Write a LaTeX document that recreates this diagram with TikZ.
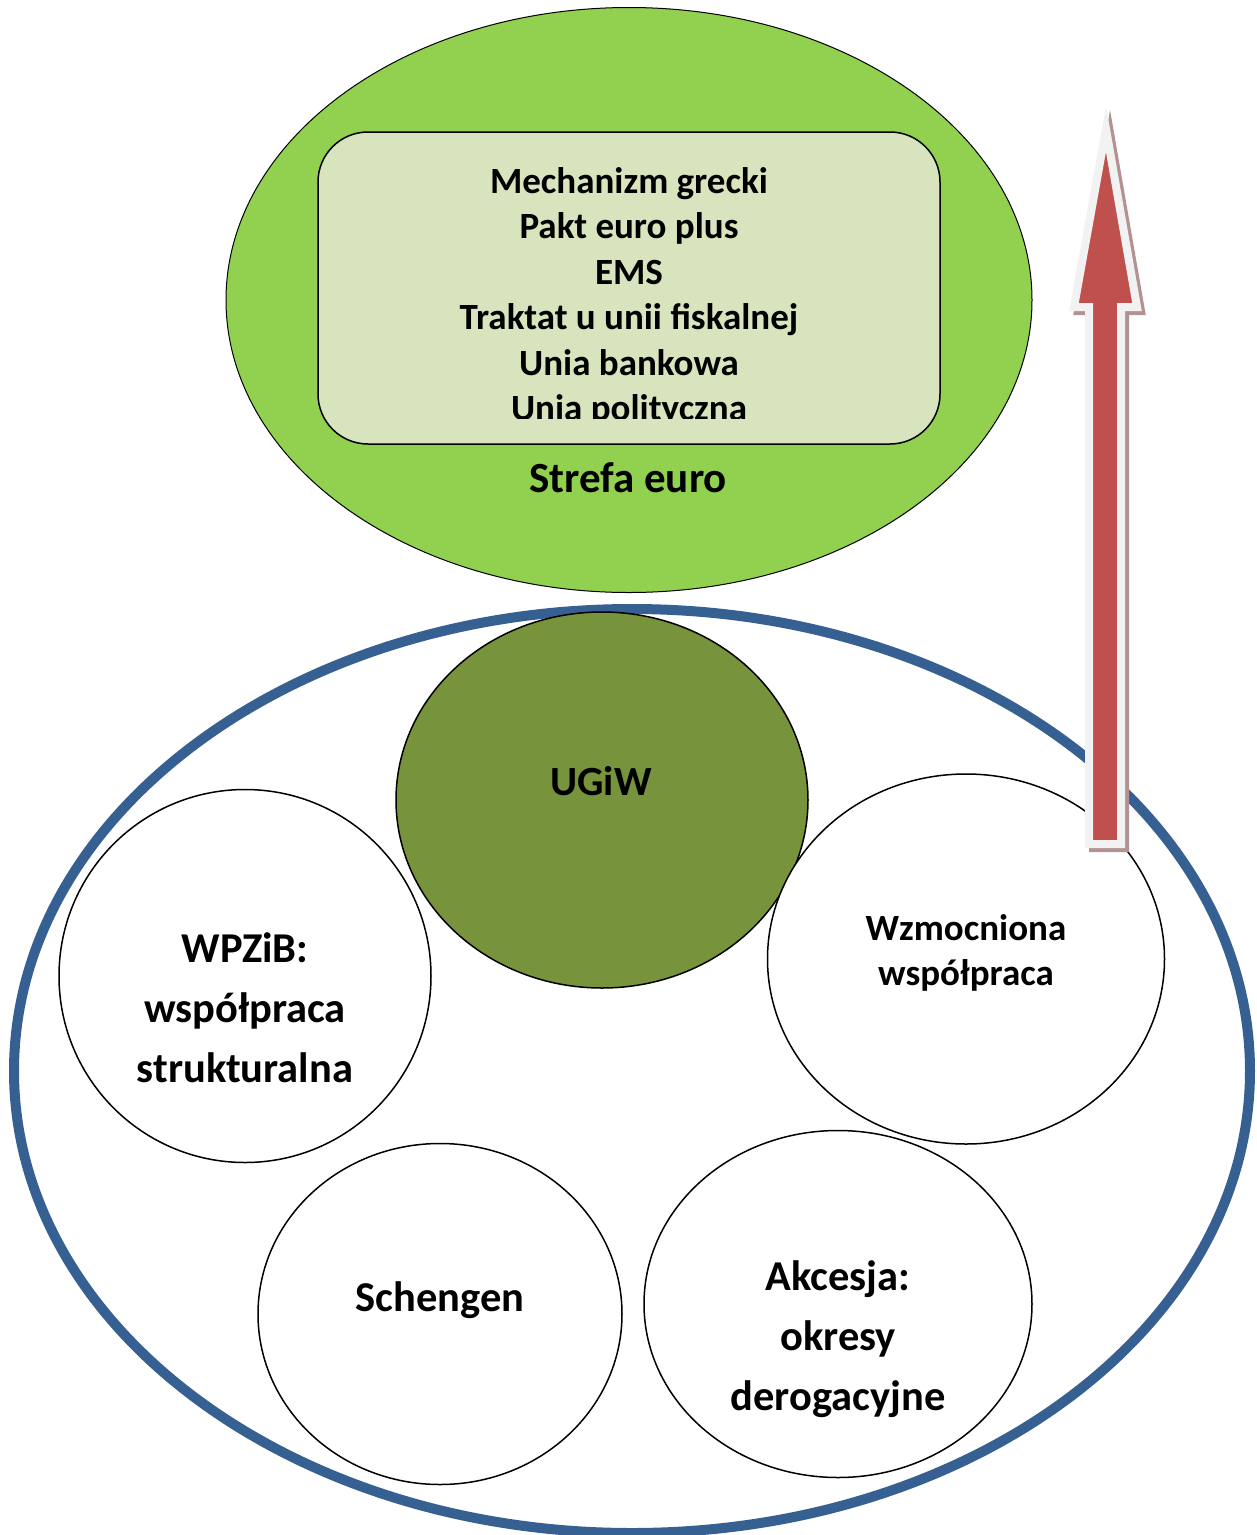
\documentclass[tikz,border=0pt]{standalone}
\usepackage{fontspec}
\setmainfont{Carlito}
\definecolor{eurogreen}{HTML}{92D050}
\definecolor{boxgreen}{HTML}{D7E4BD}
\definecolor{ugiwgreen}{HTML}{77933C}
\definecolor{eublue}{HTML}{376092}
\definecolor{arrowred}{HTML}{C0504D}
\definecolor{arrowrim}{HTML}{F2F2F2}
\definecolor{arrowshadow}{HTML}{B59292}
\tikzset{
  bubble/.style={ellipse, draw=black, line width=1.5pt, fill=white, inner sep=0pt},
  bigtxt/.style={font=\bfseries\fontsize{42.5}{60}\selectfont, align=center},
  midtxt/.style={font=\bfseries\fontsize{37}{45}\selectfont, align=center},
  arrowpath/.style={line width=8pt, line join=miter, miter limit=10},
}
\usetikzlibrary{shapes.geometric}
\begin{document}
\begin{tikzpicture}[x=1pt,y=-1pt]
\useasboundingbox (0,0) rectangle (1257,1535);
% euro zone
\node[ellipse, draw=black, line width=1pt, fill=eurogreen, minimum width=806pt, minimum height=585pt, inner sep=0pt] (strefa) at (629,300) {};
\draw[black, line width=1.5pt, fill=boxgreen, rounded corners=50pt] (318,132) rectangle (940,444);
\begin{scope}
\clip (318,132) rectangle (940,418);
\node[font=\bfseries\fontsize{37}{45.4}\selectfont, align=center, anchor=north] (list) at (629,164)
 {Mechanizm grecki\\Pakt euro plus\\EMS\\Traktat u unii fiskalnej\\Unia bankowa\\Unia polityczna};
\end{scope}
\node[font=\bfseries\fontsize{43}{45}\selectfont] (strefatxt) at (628,478) {Strefa euro};
% EU
\node[ellipse, draw=eublue, line width=10pt, fill=white, minimum width=1236pt, minimum height=924pt, inner sep=0pt] (ue) at (632,1071) {};
\node[ellipse, draw=black, line width=1.5pt, fill=ugiwgreen, minimum width=412pt, minimum height=376pt, inner sep=0pt] (ugiw) at (602,800) {};
\node[font=\bfseries\fontsize{41.5}{45}\selectfont] (ugiwtxt) at (601,781) {UGiW};
\node[bubble, minimum width=372pt, minimum height=373pt] (wpzib) at (245,976) {};
\node[bigtxt] (wpzibtxt) at (245,1008) {WPZiB:\\współpraca\\strukturalna};
\node[bubble, minimum width=397pt, minimum height=370pt] (wzm) at (966,959) {};
\node[midtxt] (wzmtxt) at (966,953) {Wzmocniona\\współpraca};
\node[bubble, minimum width=364pt, minimum height=341pt] (schengen) at (440,1314) {};
\node[bigtxt] (schtxt) at (440,1300) {Schengen};
\node[bubble, minimum width=388pt, minimum height=347pt] (akcesja) at (838,1304) {};
\node[bigtxt] (akctxt) at (838,1339) {Akcesja:\\okresy\\derogacyjne};
% arrow
\begin{scope}[shift={(4,4)}]
\draw[arrowpath, draw=arrowshadow, fill=arrowshadow]
 (1106,129) -- (1137,307) -- (1121,307) -- (1121,844) -- (1089,844) -- (1089,307) -- (1074,307) -- cycle;
\end{scope}
\draw[arrowpath, draw=arrowrim, fill=arrowred]
 (1106,129) -- (1137,307) -- (1121,307) -- (1121,844) -- (1089,844) -- (1089,307) -- (1074,307) -- cycle;
\end{tikzpicture}
\end{document}
